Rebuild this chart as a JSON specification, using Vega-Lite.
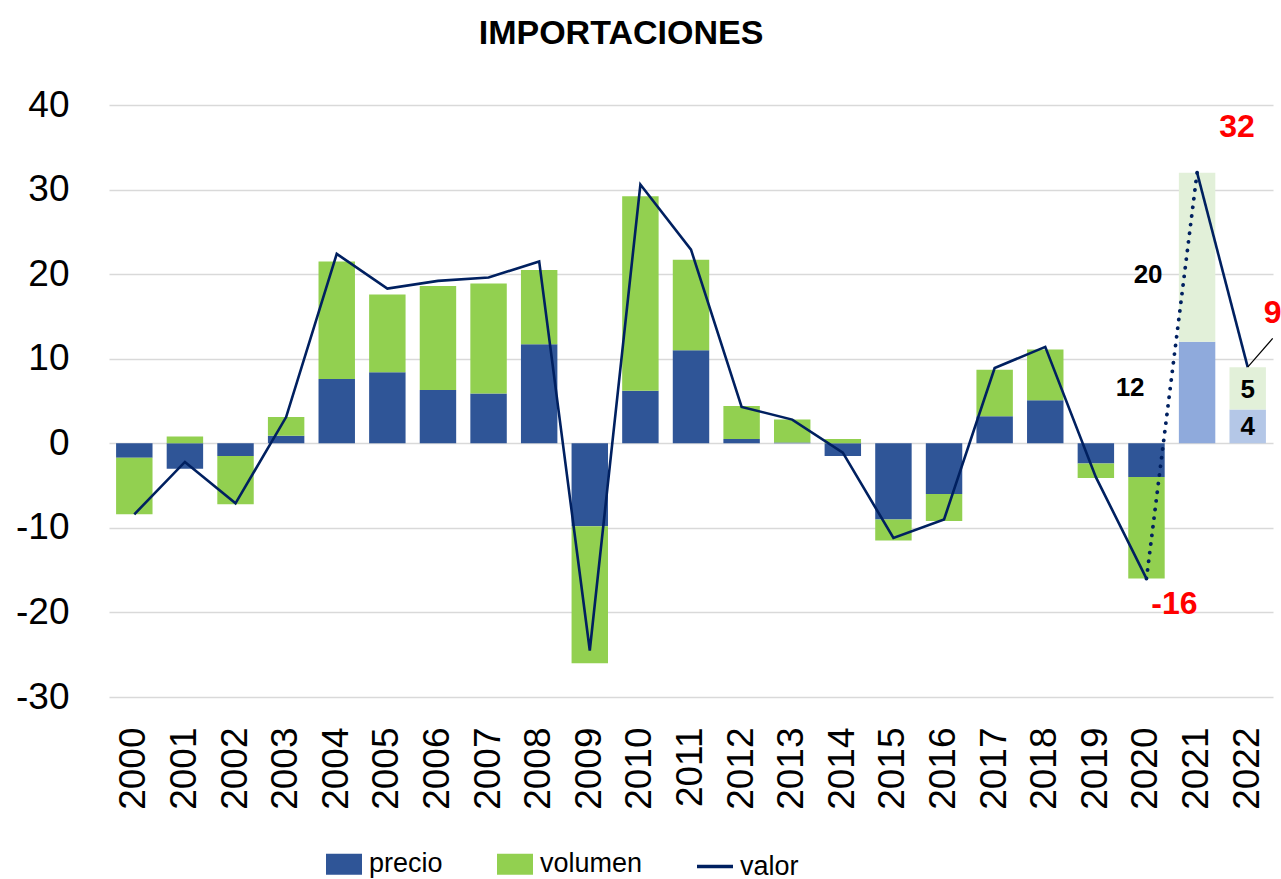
{
  "$schema": "https://vega.github.io/schema/vega-lite/v6.json",
  "width": 1164,
  "height": 592,
  "autosize": {"type": "none"},
  "padding": {"left": 109, "top": 105, "right": 8, "bottom": 182},
  "background": "white",
  "config": {
    "font": "Liberation Sans",
    "view": {"stroke": null},
    "title": {"fontSize": 34, "fontWeight": "bold", "color": "#000000", "anchor": "middle", "offset": 35, "dx": -70}
  },
  "title": {"text": "IMPORTACIONES"},
  "datasets": {
    "barras": [
      {"anio": "2000", "componente": "precio", "estado": "observado", "valor": -1.7},
      {"anio": "2000", "componente": "volumen", "estado": "observado", "valor": -6.7},
      {"anio": "2001", "componente": "precio", "estado": "observado", "valor": -3.0},
      {"anio": "2001", "componente": "volumen", "estado": "observado", "valor": 0.8},
      {"anio": "2002", "componente": "precio", "estado": "observado", "valor": -1.5},
      {"anio": "2002", "componente": "volumen", "estado": "observado", "valor": -5.7},
      {"anio": "2003", "componente": "precio", "estado": "observado", "valor": 0.9},
      {"anio": "2003", "componente": "volumen", "estado": "observado", "valor": 2.2},
      {"anio": "2004", "componente": "precio", "estado": "observado", "valor": 7.6},
      {"anio": "2004", "componente": "volumen", "estado": "observado", "valor": 13.9},
      {"anio": "2005", "componente": "precio", "estado": "observado", "valor": 8.4},
      {"anio": "2005", "componente": "volumen", "estado": "observado", "valor": 9.2},
      {"anio": "2006", "componente": "precio", "estado": "observado", "valor": 6.3},
      {"anio": "2006", "componente": "volumen", "estado": "observado", "valor": 12.3},
      {"anio": "2007", "componente": "precio", "estado": "observado", "valor": 5.9},
      {"anio": "2007", "componente": "volumen", "estado": "observado", "valor": 13.0},
      {"anio": "2008", "componente": "precio", "estado": "observado", "valor": 11.7},
      {"anio": "2008", "componente": "volumen", "estado": "observado", "valor": 8.8},
      {"anio": "2009", "componente": "precio", "estado": "observado", "valor": -9.8},
      {"anio": "2009", "componente": "volumen", "estado": "observado", "valor": -16.2},
      {"anio": "2010", "componente": "precio", "estado": "observado", "valor": 6.2},
      {"anio": "2010", "componente": "volumen", "estado": "observado", "valor": 23.0},
      {"anio": "2011", "componente": "precio", "estado": "observado", "valor": 11.0},
      {"anio": "2011", "componente": "volumen", "estado": "observado", "valor": 10.7},
      {"anio": "2012", "componente": "precio", "estado": "observado", "valor": 0.5},
      {"anio": "2012", "componente": "volumen", "estado": "observado", "valor": 3.9},
      {"anio": "2013", "componente": "precio", "estado": "observado", "valor": 0.1},
      {"anio": "2013", "componente": "volumen", "estado": "observado", "valor": 2.7},
      {"anio": "2014", "componente": "precio", "estado": "observado", "valor": -1.5},
      {"anio": "2014", "componente": "volumen", "estado": "observado", "valor": 0.5},
      {"anio": "2015", "componente": "precio", "estado": "observado", "valor": -9.0},
      {"anio": "2015", "componente": "volumen", "estado": "observado", "valor": -2.5},
      {"anio": "2016", "componente": "precio", "estado": "observado", "valor": -6.0},
      {"anio": "2016", "componente": "volumen", "estado": "observado", "valor": -3.2},
      {"anio": "2017", "componente": "precio", "estado": "observado", "valor": 3.2},
      {"anio": "2017", "componente": "volumen", "estado": "observado", "valor": 5.5},
      {"anio": "2018", "componente": "precio", "estado": "observado", "valor": 5.1},
      {"anio": "2018", "componente": "volumen", "estado": "observado", "valor": 6.0},
      {"anio": "2019", "componente": "precio", "estado": "observado", "valor": -2.4},
      {"anio": "2019", "componente": "volumen", "estado": "observado", "valor": -1.7},
      {"anio": "2020", "componente": "precio", "estado": "observado", "valor": -4.0},
      {"anio": "2020", "componente": "volumen", "estado": "observado", "valor": -12.0},
      {"anio": "2021", "componente": "precio", "estado": "estimado", "valor": 12},
      {"anio": "2021", "componente": "volumen", "estado": "estimado", "valor": 20},
      {"anio": "2022", "componente": "precio", "estado": "proyectado", "valor": 4},
      {"anio": "2022", "componente": "volumen", "estado": "proyectado", "valor": 5}
    ],
    "valor": [
      {"anio": "2000", "valor": -8.4},
      {"anio": "2001", "valor": -2.2},
      {"anio": "2002", "valor": -7.1},
      {"anio": "2003", "valor": 3.1},
      {"anio": "2004", "valor": 22.4},
      {"anio": "2005", "valor": 18.3},
      {"anio": "2006", "valor": 19.2},
      {"anio": "2007", "valor": 19.6},
      {"anio": "2008", "valor": 21.5},
      {"anio": "2009", "valor": -24.5},
      {"anio": "2010", "valor": 30.6},
      {"anio": "2011", "valor": 22.9},
      {"anio": "2012", "valor": 4.3},
      {"anio": "2013", "valor": 2.8},
      {"anio": "2014", "valor": -1.1},
      {"anio": "2015", "valor": -11.2},
      {"anio": "2016", "valor": -9.0},
      {"anio": "2017", "valor": 8.9},
      {"anio": "2018", "valor": 11.4},
      {"anio": "2019", "valor": -4.0},
      {"anio": "2020", "valor": -16.0},
      {"anio": "2021", "valor": 32},
      {"anio": "2022", "valor": 9}
    ]
  },
  "encoding": {
    "x": {
      "field": "anio", "type": "ordinal",
      "scale": {"paddingInner": 0.28, "paddingOuter": 0.14},
      "axis": {"title": null, "labelAngle": -90, "labelFontSize": 37, "labelPadding": 30, "labelColor": "#000000", "ticks": false, "domain": false, "grid": false}
    },
    "y": {
      "field": "valor", "type": "quantitative",
      "scale": {"domain": [-30, 40], "nice": false, "zero": false},
      "axis": {"title": null, "values": [-30, -20, -10, 0, 10, 20, 30, 40], "labelExpr": "'' + datum.value", "labelFontSize": 37, "labelPadding": 40, "labelColor": "#000000", "ticks": false, "domain": false, "grid": true, "gridColor": "#D9D9D9", "gridWidth": 1.6}
    }
  },
  "layer": [
    {
      "data": {"name": "barras"},
      "transform": [{"calculate": "datum.estado === 'observado' ? datum.componente : datum.componente + ' ' + datum.estado", "as": "serie"}],
      "mark": {"type": "bar"},
      "encoding": {
        "y": {"field": "valor", "type": "quantitative", "stack": "zero"},
        "color": {
          "field": "serie", "type": "nominal",
          "scale": {
            "domain": ["precio", "volumen", "valor", "precio estimado", "volumen estimado", "precio proyectado", "volumen proyectado"],
            "range": ["#2F5597", "#92D050", "#002060", "#8FAADC", "#E2F0D9", "#B4C7E7", "#E2F0D9"]
          },
          "legend": {
            "values": ["precio", "volumen", "valor"],
            "title": null,
            "orient": "none",
            "legendX": 215,
            "legendY": 739,
            "direction": "horizontal",
            "columnPadding": 47,
            "labelFontSize": 27,
            "labelColor": "#000000",
            "labelOffset": 5,
            "symbolSize": 1296,
            "symbolOpacity": 1,
            "padding": 0,
            "encode": {
              "symbols": {
                "update": {
                  "shape": {"signal": "datum.value === 'valor' ? 'stroke' : 'M-1,-0.58H1V0.58H-1Z'"},
                  "stroke": {"signal": "datum.value === 'valor' ? '#002060' : 'transparent'"},
                  "strokeWidth": {"value": 3.5}
                }
              }
            }
          }
        },
        "order": {"field": "componente", "sort": "ascending"}
      }
    },
    {
      "data": {"name": "valor"},
      "transform": [{"filter": "toNumber(datum.anio) <= 2020"}],
      "mark": {"type": "line", "color": "#002060", "strokeWidth": 2.6},
      "encoding": {}
    },
    {
      "data": {"name": "valor"},
      "transform": [{"filter": "toNumber(datum.anio) >= 2021"}],
      "mark": {"type": "line", "color": "#002060", "strokeWidth": 2.6},
      "encoding": {}
    },
    {
      "data": {"name": "valor"},
      "transform": [{"filter": "toNumber(datum.anio) === 2020 || toNumber(datum.anio) === 2021"}],
      "mark": {"type": "line", "color": "#002060", "strokeWidth": 3.8, "strokeDash": [0.1, 8.6], "strokeCap": "round"},
      "encoding": {}
    },
    {
      "data": {"values": [{"anio": "2022", "valor": 9, "fin": 12.4}]},
      "mark": {"type": "rule", "color": "#000000", "strokeWidth": 1.2, "x2Offset": 25},
      "encoding": {
        "x2": {"field": "anio"},
        "y2": {"field": "fin"}
      }
    },
    {
      "data": {"values": [{"anio": "2021", "valor": 32, "texto": "32"}]},
      "mark": {"type": "text", "color": "#FF0000", "fontWeight": "bold", "fontSize": 32, "dx": 40, "dy": -46},
      "encoding": {"text": {"field": "texto"}}
    },
    {
      "data": {"values": [{"anio": "2020", "valor": -16, "texto": "-16"}]},
      "mark": {"type": "text", "color": "#FF0000", "fontWeight": "bold", "fontSize": 32, "dx": 28, "dy": 25},
      "encoding": {"text": {"field": "texto"}}
    },
    {
      "data": {"values": [{"anio": "2022", "valor": 9, "texto": "9"}]},
      "mark": {"type": "text", "color": "#FF0000", "fontWeight": "bold", "fontSize": 32, "dx": 25, "dy": -54},
      "encoding": {"text": {"field": "texto"}}
    },
    {
      "data": {"values": [{"anio": "2021", "valor": 20, "texto": "20"}]},
      "mark": {"type": "text", "color": "#000000", "fontWeight": "bold", "fontSize": 26, "dx": -49, "dy": 1},
      "encoding": {"text": {"field": "texto"}}
    },
    {
      "data": {"values": [{"anio": "2021", "valor": 12, "texto": "12"}]},
      "mark": {"type": "text", "color": "#000000", "fontWeight": "bold", "fontSize": 26, "dx": -67, "dy": 46},
      "encoding": {"text": {"field": "texto"}}
    },
    {
      "data": {"values": [{"anio": "2022", "valor": 5, "texto": "5"}]},
      "mark": {"type": "text", "color": "#000000", "fontWeight": "bold", "fontSize": 26, "dx": 0, "dy": -11},
      "encoding": {"text": {"field": "texto"}}
    },
    {
      "data": {"values": [{"anio": "2022", "valor": 4, "texto": "4"}]},
      "mark": {"type": "text", "color": "#000000", "fontWeight": "bold", "fontSize": 26, "dx": 0, "dy": 18},
      "encoding": {"text": {"field": "texto"}}
    }
  ]
}
